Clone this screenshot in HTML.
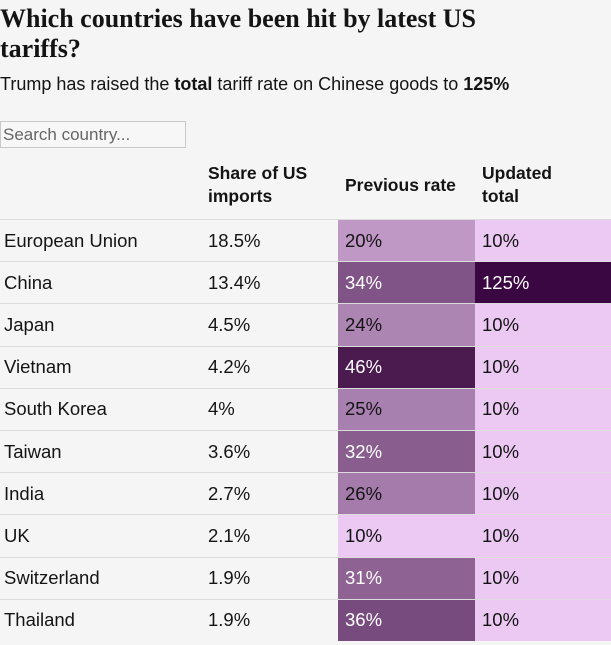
<!DOCTYPE html>
<html><head><meta charset="utf-8"><style>
body{margin:0;background:#f5f5f5;font-family:"Liberation Sans",sans-serif;color:#141414;width:611px;height:645px;overflow:hidden;position:relative}
h1{position:absolute;left:0;top:4px;margin:0;font-family:"Liberation Serif",serif;font-size:26px;line-height:30px;font-weight:bold;width:540px}
.sub{position:absolute;left:0;top:74px;font-size:18px}
.search{position:absolute;left:0;top:121px;width:186px;height:27px;border:1px solid #c8c8c8;box-sizing:border-box;background:#f7f7f7;font-size:17px;color:#666;padding-left:2px;line-height:25px}
.hd{position:absolute;font-weight:bold;font-size:17.5px;line-height:23px}
.row{position:absolute;left:0;width:611px;border-top:1px solid #dcdcdc;box-sizing:border-box}
.cell{position:absolute;top:0;bottom:0;font-size:18.5px;display:flex;align-items:center;box-sizing:border-box}
</style></head><body>
<h1>Which countries have been hit by latest US tariffs?</h1>
<div class="sub">Trump has raised the <b>total</b> tariff rate on Chinese goods to <b>125%</b></div>
<div class="search">Search country...</div>
<div class="hd" style="left:208px;top:162px">Share of US<br>imports</div>
<div class="hd" style="left:345px;top:174px">Previous rate</div>
<div class="hd" style="left:482px;top:162px">Updated<br>total</div>
<div id="tb"></div>
<script>
const countries=["European Union","China","Japan","Vietnam","South Korea","Taiwan","India","UK","Switzerland","Thailand"];
const shares=["18.5%","13.4%","4.5%","4.2%","4%","3.6%","2.7%","2.1%","1.9%","1.9%"];
const previousRates=[20,34,24,46,25,32,26,10,31,36];
const updatedTotals=[10,125,10,10,10,10,10,10,10,10];
function color(v){
  if(v>=100) return "#3b0742";
  const t=Math.max(0,Math.min(1,(v-10)/36));
  const a=[235,201,243],b=[75,26,79];
  return "rgb("+a.map((x,i)=>Math.round(x+(b[i]-x)*t)).join(",")+")";
}
const tb=document.getElementById('tb');
const colX=[0,200,338,475,611], pad=[4,8,7,7], rowH=42.2, top0=219;
countries.forEach((c,i)=>{
  const tr=document.createElement('div');
  tr.className='row';
  tr.style.top=(top0+i*rowH)+'px';
  tr.style.height=rowH+'px';
  
  
  const vals=[c,shares[i],previousRates[i]+"%",updatedTotals[i]+"%"];
  vals.forEach((v,j)=>{
    const td=document.createElement('div');
    td.className='cell';
    td.style.left=colX[j]+'px';
    td.style.width=(colX[j+1]-colX[j])+'px';
    td.style.paddingLeft=pad[j]+'px';
    td.textContent=v;
    
    
    if(j>=2){const n=j==2?previousRates[i]:updatedTotals[i];td.style.background=color(n);td.style.color=n>=28?"#fff":"#141414";}
    tr.appendChild(td);
  });
  tb.appendChild(tr);
});
</script>
</body></html>
